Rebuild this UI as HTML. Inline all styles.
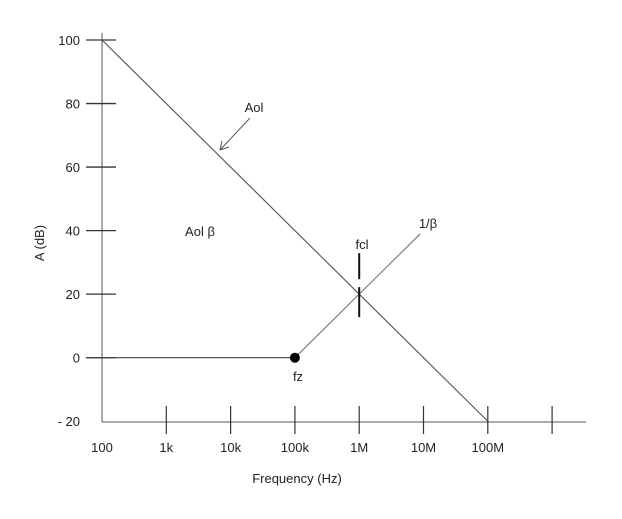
<!DOCTYPE html>
<html><head><meta charset="utf-8"><style>
html,body{margin:0;padding:0;background:#fff;}
svg{display:block;font-family:"Liberation Sans",sans-serif;}
</style></head><body>
<svg id="chart" width="622" height="519" viewBox="0 0 622 519" xmlns="http://www.w3.org/2000/svg"></svg>
<script>
const yTicks=[100,80,60,40,20,0,-20];
const yTickLabels=["100","80","60","40","20","0","- 20"];
const xDecades=[2,3,4,5,6,7,8,9];
const xTickLabels=["100","1k","10k","100k","1M","10M","100M",""];
const aolFreqLog=[2,8];
const aolDb=[100,-20];
const betaFreqLog=[5,6.95];
const betaDb=[0,39];
const flatFreqLog=[1.75,5];
const flatDb=[0,0];
const fclLog=6, fclDb=20;
const fzLog=5, fzDb=0;

const svg=document.getElementById('chart');
const NS="http://www.w3.org/2000/svg";
function X(l){return 102+(l-2)*64.3;}
function Y(d){return 357.7-d*3.177;}
function mk(t,a,parent){const e=document.createElementNS(NS,t);for(const k in a)e.setAttribute(k,a[k]);(parent||svg).appendChild(e);return e;}

let ya=mk('line',{x1:102,y1:33,x2:102,y2:422,stroke:'#555','stroke-width':1});


let xa=mk('line',{x1:102,y1:422,x2:586,y2:422,stroke:'#555','stroke-width':1});



yTicks.forEach((v,i)=>{
  if(v!==-20){
  const t=mk('line',{x1:86,y1:Y(v),x2:116,y2:Y(v),stroke:'#333','stroke-width':1.3});
  
  }
  const l=mk('text',{x:80,y:Y(v)+5,'text-anchor':'end','font-size':13,fill:'#222'});
  l.textContent=yTickLabels[i];
  
  
});
xDecades.forEach((d,i)=>{
  if(i>0){
  const t=mk('line',{x1:X(d),y1:406,x2:X(d),y2:434,stroke:'#333','stroke-width':1.2});
  
  }
  if(xTickLabels[i]){
  const l=mk('text',{x:X(d),y:452,'text-anchor':'middle','font-size':13,fill:'#222'});
  l.textContent=xTickLabels[i];
  
  }
});

function line(fl,db,name,col){
  const e=mk('line',{x1:X(fl[0]),y1:Y(db[0]),x2:X(fl[1]),y2:Y(db[1]),stroke:col,'stroke-width':1.1});
  
  
}
line(aolFreqLog,aolDb,'aol-line','#555');
line(betaFreqLog,betaDb,'inverse-beta-line','#777');
line(flatFreqLog,flatDb,'zero-db-line','#444');

let f1=mk('line',{x1:X(fclLog),y1:Y(fclDb)-41,x2:X(fclLog),y2:Y(fclDb)-15,stroke:'#111','stroke-width':2});


let f2=mk('line',{x1:X(fclLog),y1:Y(fclDb)-7,x2:X(fclLog),y2:Y(fclDb)+23,stroke:'#111','stroke-width':2});


let dot=mk('circle',{cx:X(fzLog),cy:Y(fzDb),r:5,fill:'#000'});



let arr=mk('path',{d:'M250,118 L220,150 M220,150 L222,141 M220,150 L229,147',stroke:'#555',fill:'none','stroke-width':1});



function txt(x,y,s,name,size,anchor){
  const e=mk('text',{x:x,y:y,'font-size':size||13,fill:'#222','text-anchor':anchor||'middle'});
  e.textContent=s;
  
  
  return e;
}
txt(254,112,'Aol','aol-label');
txt(200,236,'Aol  β','aol-beta-label');
txt(362,249,'fcl','fcl-label');
txt(428,228,'1/β','inverse-beta-label');
txt(298,381,'fz','fz-label');
txt(297,483,'Frequency (Hz)','x-axis-title');
const yt=txt(0,0,'A (dB)','y-axis-title');
yt.setAttribute('transform','translate(44,243) rotate(-90)');
</script>
</body></html>
